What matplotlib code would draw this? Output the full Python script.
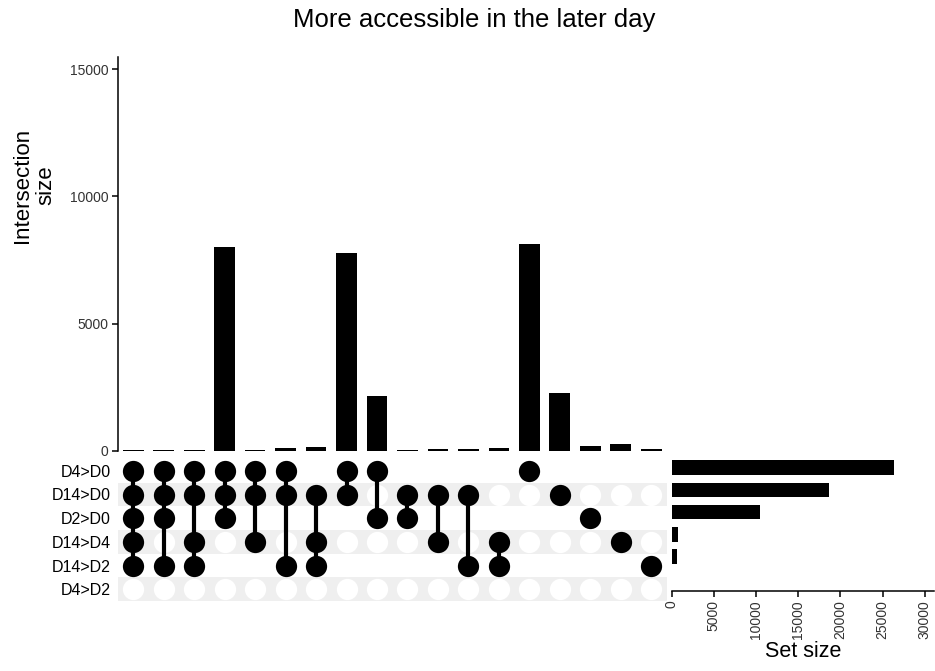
import matplotlib
matplotlib.use("Agg")
import matplotlib.pyplot as plt
import numpy as np

plt.rcParams["font.family"] = ["Liberation Sans", "DejaVu Sans"]

# Sets (matrix rows, top to bottom) and their total sizes
set_names = ["D4>D0", "D14>D0", "D2>D0", "D14>D4", "D14>D2", "D4>D2"]
set_sizes = [26370, 18670, 10500, 700, 590, 30]

# Intersections (matrix columns, left to right)
intersections = [
    ["D4>D0", "D14>D0", "D2>D0", "D14>D4", "D14>D2"],
    ["D4>D0", "D14>D0", "D2>D0", "D14>D2"],
    ["D4>D0", "D14>D0", "D14>D4", "D14>D2"],
    ["D4>D0", "D14>D0", "D2>D0"],
    ["D4>D0", "D14>D0", "D14>D4"],
    ["D4>D0", "D14>D0", "D14>D2"],
    ["D14>D0", "D14>D4", "D14>D2"],
    ["D4>D0", "D14>D0"],
    ["D4>D0", "D2>D0"],
    ["D14>D0", "D2>D0"],
    ["D14>D0", "D14>D4"],
    ["D14>D0", "D14>D2"],
    ["D14>D4", "D14>D2"],
    ["D4>D0"],
    ["D14>D0"],
    ["D2>D0"],
    ["D14>D4"],
    ["D14>D2"],
]
intersection_sizes = [40, 40, 40, 8030, 40, 110, 170, 7795, 2175,
                      40, 95, 90, 120, 8125, 2290, 210, 290, 70]

bar_ticks = [0, 5000, 10000, 15000]
set_ticks = [0, 5000, 10000, 15000, 20000, 25000, 30000]

W, H = 935, 671
fig = plt.figure(figsize=(W / 100, H / 100), dpi=100)


def box(left, top, right, bottom):
    return [left / W, 1 - bottom / H, (right - left) / W, (bottom - top) / H]


n_cols = len(intersections)
n_rows = len(set_names)
xs = np.arange(1, n_cols + 1)

# --- intersection size bars ---
ax_bar = fig.add_axes(box(118, 57, 666.5, 451))
ax_bar.bar(xs, intersection_sizes, width=0.68, color="black")
ax_bar.set_xlim(0.5, n_cols + 0.5)
ax_bar.set_ylim(0, 15480)
ax_bar.set_yticks(bar_ticks)
ax_bar.set_yticklabels([str(t) for t in bar_ticks])
ax_bar.set_xticks([])
for s in ["top", "right", "bottom"]:
    ax_bar.spines[s].set_visible(False)
ax_bar.spines["left"].set_linewidth(1.1)
ax_bar.tick_params(axis="y", length=4, width=1.1, labelsize=10,
                   labelcolor="#333333", pad=3)
fig.text(34 / W, 1 - 185 / H, "Intersection\nsize", rotation=90,
         ha="center", va="center", fontsize=16, linespacing=1.15)

# --- membership matrix ---
ax_mat = fig.add_axes(box(118, 459, 666.5, 601))
ax_mat.set_xlim(0.5, n_cols + 0.5)
ax_mat.set_ylim(n_rows - 0.5, -0.5)
for r in range(n_rows):
    if r % 2 == 1:
        ax_mat.axhspan(r - 0.5, r + 0.5, color="#efefef", lw=0, zorder=0)
for c, members in enumerate(intersections):
    x = xs[c]
    rows_on = [set_names.index(m) for m in members]
    rows_off = [r for r in range(n_rows) if r not in rows_on]
    ax_mat.plot([x] * len(rows_off), rows_off, "o", color="white",
                markersize=15.3, markeredgewidth=0, zorder=1)
    if len(rows_on) > 1:
        ax_mat.plot([x, x], [min(rows_on), max(rows_on)], color="black",
                    lw=3, zorder=2, solid_capstyle="butt")
    ax_mat.plot([x] * len(rows_on), rows_on, "o", color="black",
                markersize=15.3, markeredgewidth=0, zorder=3)
ax_mat.set_yticks(range(n_rows))
ax_mat.set_yticklabels(set_names)
ax_mat.set_xticks([])
ax_mat.tick_params(axis="y", length=0, labelsize=11.5, pad=5)
for s in ax_mat.spines.values():
    s.set_visible(False)

# --- set size bars ---
ax_set = fig.add_axes(box(671.7, 455.7, 934, 590.7))
ax_set.barh(range(n_rows), set_sizes, height=0.65, color="black")
ax_set.set_ylim(n_rows - 0.46, -0.54)
ax_set.set_xlim(0, 31100)
ax_set.set_xticks(set_ticks)
ax_set.set_xticklabels([str(t) for t in set_ticks], rotation=90)
ax_set.set_yticks([])
for s in ["top", "right", "left"]:
    ax_set.spines[s].set_visible(False)
ax_set.spines["bottom"].set_linewidth(1.1)
ax_set.tick_params(axis="x", length=4, width=1.1, labelsize=10,
                   labelcolor="#333333", pad=3)
ax_set.set_xlabel("Set size", fontsize=15.5, labelpad=1)

fig.text(474 / W, 1 - 20 / H, "More accessible in the later day",
         ha="center", va="center", fontsize=18.5)

fig.savefig("out.png", dpi=100)
